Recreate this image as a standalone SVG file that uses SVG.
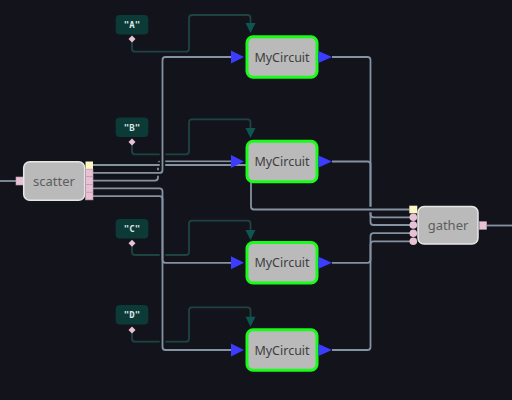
<svg xmlns="http://www.w3.org/2000/svg" width="512" height="400" viewBox="0 0 512 400">
<style>
.w{fill:none;stroke:#8592a1;stroke-width:1.8}
.h{fill:none;stroke:#12131b;stroke-width:5.5}
.t{fill:none;stroke:#1e4442;stroke-width:1.8}
.circ rect{fill:#bababa;stroke:#19fb19;stroke-width:3}
.lbl{font-family:"Noto Sans","DejaVu Sans",sans-serif;text-anchor:middle}
.circ text{font-size:12.5px;fill:#3e3e3e}
.box rect.b{fill:#bababa;stroke:#e6e6e6;stroke-width:1.5}
.box text{font-size:13px;fill:#5e5e5e}
.in{fill:#3c3cff}
.ta{fill:#0d5652}
.const rect{fill:#0b3a37}
.const text{font-family:"DejaVu Sans Mono","Liberation Mono",monospace;font-weight:bold;font-size:9px;fill:#dfe6e6;text-anchor:middle}
.pp{fill:#e7c2d4;stroke:#c79cb2;stroke-width:0.6}
.yp{fill:#fdf7c6}
</style>
<rect width="512" height="400" fill="#12131b"/>
<g id="connectors">
  <path class="t" d="M132,39 V48.7 q0,3 3,3 H186 q3,0 3,-3 V18 q0,-3 3,-3 H247.5 q3,0 3,3 V24"/>
  <path class="t" d="M132,142 V151.3 q0,3 3,3 H186 q3,0 3,-3 V122.3 q0,-3 3,-3 H247.5 q3,0 3,3 V129"/>
  <path class="t" d="M132,243.3 V252 q0,3 3,3 H186 q3,0 3,-3 V223.7 q0,-3 3,-3 H247.5 q3,0 3,3 V231"/>
  <path class="t" d="M132,330 V338.7 q0,3 3,3 H186 q3,0 3,-3 V310.3 q0,-3 3,-3 H247.5 q3,0 3,3 V317.7"/>
  <path class="w" d="M0,181 H16"/>
  <path class="w" d="M487,225.5 H512"/>
  <path class="w" d="M332,57 H367.5 q3,0 3,3 V214.3 q0,3 3,3 H410"/>
  <path class="w" d="M332,161.5 H367.5 q3,0 3,3 V222 q0,3 3,3 H410"/>
  <path class="w" d="M332,262.8 H367.5 q3,0 3,-3 V236.2 q0,-3 3,-3 H410"/>
  <path class="w" d="M332,350 H367.5 q3,0 3,-3 V244.3 q0,-3 3,-3 H410"/>
  <path class="w" d="M93,180.6 H155 q3,0 3,-3 V164.5 q0,-3 3,-3 H232"/>
  <path class="h" d="M93,165 H248 q3,0 3,3 V206.5 q0,3 3,3 H409.5"/>
  <path class="w" d="M93,165 H248 q3,0 3,3 V206.5 q0,3 3,3 H409.5"/>
  <path class="h" d="M93,172.9 H159.5 q3,0 3,-3 V60 q0,-3 3,-3 H232"/>
  <path class="w" d="M93,172.9 H159.5 q3,0 3,-3 V60 q0,-3 3,-3 H232"/>
  <path class="h" d="M93,196.1 H159.5 q3,0 3,3 V347 q0,3 3,3 H232"/>
  <path class="w" d="M93,196.1 H159.5 q3,0 3,3 V347 q0,3 3,3 H232"/>
  <path class="w" d="M93,188.4 H159.5 q3,0 3,3 V259.8 q0,3 3,3 H232"/>
</g>
<g id="constA" class="const">
  <rect x="115.7" y="15" width="32.6" height="19.5" rx="4"/>
  <text x="132" y="28">"A"</text>
  <polygon class="pp" points="132,35.5 135.5,39 132,42.5 128.5,39" style="stroke:none"/>
</g>
<g id="constB" class="const">
  <rect x="115.7" y="117.5" width="32.6" height="19.5" rx="4"/>
  <text x="132" y="130.5">"B"</text>
  <polygon class="pp" points="132,138.5 135.5,142 132,145.5 128.5,142" style="stroke:none"/>
</g>
<g id="constC" class="const">
  <rect x="115.7" y="219" width="32.6" height="19.5" rx="4"/>
  <text x="132" y="232">"C"</text>
  <polygon class="pp" points="132,239.8 135.5,243.3 132,246.8 128.5,243.3" style="stroke:none"/>
</g>
<g id="constD" class="const">
  <rect x="115.7" y="305" width="32.6" height="19.5" rx="4"/>
  <text x="132" y="318">"D"</text>
  <polygon class="pp" points="132,326.5 135.5,330 132,333.5 128.5,330" style="stroke:none"/>
</g>
<g id="circuit1" class="circ">
  <polygon class="ta" points="245.5,23 255.5,23 250.5,33"/>
  <polygon class="in" points="231,50.5 244,57 231,63.5"/>
  <rect x="247" y="36.75" width="70" height="40.5" rx="6"/>
  <polygon class="in" points="318.5,51 332,57 318.5,63"/>
  <text class="lbl" x="282" y="61.5">MyCircuit</text>
</g>
<g id="circuit2" class="circ">
  <polygon class="ta" points="245.5,128 255.5,128 250.5,138"/>
  <polygon class="in" points="231,155 244,161.5 231,168"/>
  <rect x="247" y="141.25" width="70" height="40.5" rx="6"/>
  <polygon class="in" points="318.5,155.5 332,161.5 318.5,167.5"/>
  <text class="lbl" x="282" y="166">MyCircuit</text>
</g>
<g id="circuit3" class="circ">
  <polygon class="ta" points="245.5,230 255.5,230 250.5,240"/>
  <polygon class="in" points="231,256.3 244,262.8 231,269.3"/>
  <rect x="247" y="242.55" width="70" height="40.5" rx="6"/>
  <polygon class="in" points="318.5,256.8 332,262.8 318.5,268.8"/>
  <text class="lbl" x="282" y="267.3">MyCircuit</text>
</g>
<g id="circuit4" class="circ">
  <polygon class="ta" points="245.5,316.7 255.5,316.7 250.5,326.7"/>
  <polygon class="in" points="231,343.5 244,350 231,356.5"/>
  <rect x="247" y="329.75" width="70" height="40.5" rx="6"/>
  <polygon class="in" points="318.5,344 332,350 318.5,356"/>
  <text class="lbl" x="282" y="354.5">MyCircuit</text>
</g>
<g id="scatter" class="box">
  <rect class="pp" x="16" y="177" width="7.5" height="8"/>
  <rect class="b" x="23.7" y="161.7" width="61" height="38.6" rx="6"/>
  <rect class="yp" x="85.5" y="161.5" width="7.5" height="7.6"/>
  <rect class="pp" x="85.5" y="169.1" width="7.5" height="7.7"/>
  <rect class="pp" x="85.5" y="176.8" width="7.5" height="7.7"/>
  <rect class="pp" x="85.5" y="184.5" width="7.5" height="7.7"/>
  <rect class="pp" x="85.5" y="192.2" width="7.5" height="7.7"/>
  <text class="lbl" x="54" y="185.5">scatter</text>
</g>
<g id="gather" class="box">
  <rect class="b" x="418" y="206.5" width="60" height="37.5" rx="6"/>
  <rect class="yp" x="409.3" y="205.7" width="8" height="7.6"/>
  <circle class="pp" cx="413.3" cy="217.3" r="3.8" style="stroke:none"/>
  <circle class="pp" cx="413.3" cy="225" r="3.8" style="stroke:none"/>
  <circle class="pp" cx="413.3" cy="233.2" r="3.8" style="stroke:none"/>
  <circle class="pp" cx="413.3" cy="241.2" r="3.8" style="stroke:none"/>
  <rect class="pp" x="479.3" y="221.7" width="7.4" height="7.6"/>
  <text class="lbl" x="448" y="230">gather</text>
</g>
</svg>
